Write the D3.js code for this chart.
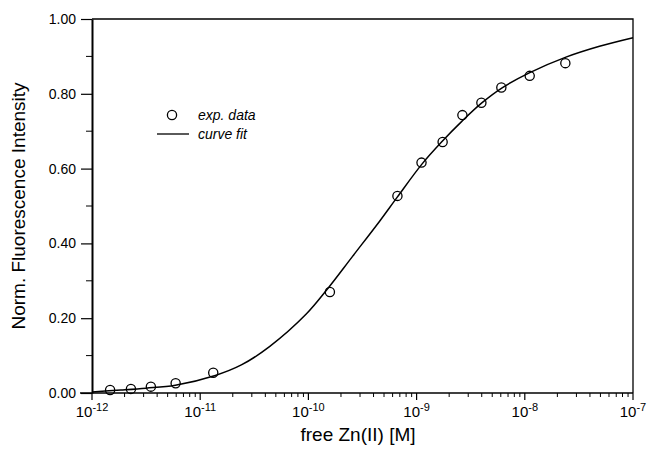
<!DOCTYPE html>
<html>
<head>
<meta charset="utf-8">
<script src="https://cdn.jsdelivr.net/npm/d3@7"></script>
<style>
  body { margin: 0; background: #fff; }
  svg { display: block; font-family: "Liberation Sans", Arial, sans-serif; }
</style>
</head>
<body>
<script>
// measured points (free Zn in M, normalised intensity)
var expZn = [1.47e-12, 2.29e-12, 3.5e-12, 5.93e-12, 1.32e-11, 1.58e-10, 6.65e-10,
             1.11e-9, 1.74e-9, 2.65e-9, 3.97e-9, 6.07e-9, 1.11e-8, 2.37e-8];
var expInt = [0.008, 0.011, 0.017, 0.026, 0.054, 0.270, 0.527,
              0.616, 0.671, 0.743, 0.776, 0.817, 0.848, 0.882];

// fitted curve
var fitZn = [1e-12, 1.85e-12, 3.16e-12, 5.9e-12, 1.38e-11, 2.4e-11, 4.37e-11, 9.55e-11,
             1.48e-10, 2.57e-10, 4.57e-10, 6.6e-10, 1.12e-9, 1.7e-9, 2.63e-9, 3.98e-9,
             6.17e-9, 1.1e-8, 2.4e-8, 4.9e-8, 1e-7];
var fitInt = [0.003, 0.008, 0.013, 0.021, 0.047, 0.075, 0.124, 0.211,
              0.276, 0.366, 0.460, 0.523, 0.612, 0.671, 0.727, 0.775,
              0.816, 0.856, 0.898, 0.927, 0.950];

var yTicks = [0, 0.2, 0.4, 0.6, 0.8, 1.0];
var yMinor = [0.1, 0.3, 0.5, 0.7, 0.9];
var xDecades = [-12, -11, -10, -9, -8, -7];

var width = 647, height = 449;
var pL = 92, pR = 633, pT = 19, pB = 393;

var svg = d3.select("body").append("svg")
    .attr("width", width)
    .attr("height", height);

var x = d3.scaleLog().domain([1e-12, 1e-7]).range([pL, pR]);
var y = d3.scaleLinear().domain([0, 1]).range([pB, pT]);

// frame top + right
svg.append("path")
    .attr("d", "M" + pL + "," + pT + "H" + pR + "V" + pB)
    .attr("fill", "none").attr("stroke", "#000").attr("stroke-width", 1.3);

// y axis
var yAxis = d3.axisLeft(y).tickValues(yTicks).tickFormat(d3.format(".2f"))
    .tickSize(11).tickPadding(5).tickSizeOuter(0);
var gy = svg.append("g").attr("transform", "translate(" + pL + ",0)").call(yAxis);
gy.select(".domain").attr("stroke-width", 2);
gy.selectAll(".tick line").attr("stroke-width", 1.2);
gy.selectAll("text").attr("font-size", 14).attr("fill", "#000")
    .attr("font-family", "Liberation Sans, Arial, sans-serif");
gy.selectAll(".minor").data(yMinor).enter().append("line")
    .attr("class", "minor")
    .attr("x1", -6).attr("x2", 0)
    .attr("y1", function(d){ return y(d); }).attr("y2", function(d){ return y(d); })
    .attr("stroke", "#000").attr("stroke-width", 1);

// x axis
var minorX = [];
for (var e = -12; e < -7; e++) {
  for (var m = 2; m <= 9; m++) minorX.push(m * Math.pow(10, e));
}
var gx = svg.append("g").attr("transform", "translate(0," + pB + ")");
gx.append("line").attr("x1", pL - 12).attr("x2", pR)
    .attr("stroke", "#000").attr("stroke-width", 1.5);
gx.selectAll(".minor").data(minorX).enter().append("line")
    .attr("x1", function(d){ return x(d); }).attr("x2", function(d){ return x(d); })
    .attr("y1", 0).attr("y2", 4)
    .attr("stroke", "#000").attr("stroke-width", 1);
gx.selectAll(".major").data(xDecades).enter().append("line")
    .attr("x1", function(d){ return x(Math.pow(10, d)); })
    .attr("x2", function(d){ return x(Math.pow(10, d)); })
    .attr("y1", 0).attr("y2", 7)
    .attr("stroke", "#000").attr("stroke-width", 1.2);
var lab = gx.selectAll(".lab").data(xDecades).enter().append("text")
    .attr("x", function(d){ return x(Math.pow(10, d)); })
    .attr("y", 24)
    .attr("text-anchor", "middle")
    .attr("font-size", 15);
lab.append("tspan").text("10");
lab.append("tspan").attr("dy", -6).attr("font-size", 11)
    .text(function(d){ return d; });

// titles
svg.append("text")
    .attr("transform", "translate(25," + (pT + pB) / 2 + ") rotate(-90)")
    .attr("text-anchor", "middle")
    .attr("font-size", 19)
    .text("Norm. Fluorescence Intensity");
svg.append("text")
    .attr("x", 358).attr("y", 441)
    .attr("text-anchor", "middle")
    .attr("font-size", 19)
    .text("free Zn(II) [M]");

// fit curve
var line = d3.line()
    .x(function(d, i){ return x(fitZn[i]); })
    .y(function(d){ return y(d); })
    .curve(d3.curveCatmullRom.alpha(0.5));
svg.append("path").datum(fitInt)
    .attr("d", line)
    .attr("fill", "none").attr("stroke", "#000").attr("stroke-width", 1.5);

// data points
svg.selectAll(".pt").data(expInt).enter().append("circle")
    .attr("cx", function(d, i){ return x(expZn[i]); })
    .attr("cy", function(d){ return y(d); })
    .attr("r", 4.6)
    .attr("fill", "none").attr("stroke", "#000").attr("stroke-width", 1.3);

// legend
var leg = svg.append("g").attr("font-size", 14).attr("font-style", "italic");
leg.append("circle").attr("cx", 172).attr("cy", 115).attr("r", 4.6)
    .attr("fill", "none").attr("stroke", "#000").attr("stroke-width", 1.3);
leg.append("text").attr("x", 198).attr("y", 120).text("exp. data");
leg.append("line").attr("x1", 157).attr("x2", 189).attr("y1", 134).attr("y2", 134)
    .attr("stroke", "#000").attr("stroke-width", 1.3);
leg.append("text").attr("x", 198).attr("y", 139).text("curve fit");
</script>
</body>
</html>
